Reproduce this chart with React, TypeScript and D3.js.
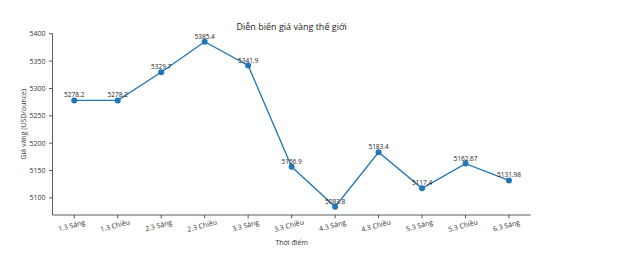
import React from "react";
import * as d3 from "d3";

const categories = ["1.3 Sáng","1.3 Chiều","2.3 Sáng","2.3 Chiều","3.3 Sáng","3.3 Chiều","4.3 Sáng","4.3 Chiều","5.3 Sáng","5.3 Chiều","6.3 Sáng"];
const values = [5278.2, 5278.2, 5329.7, 5385.4, 5341.9, 5156.9, 5083.8, 5183.4, 5117.4, 5162.67, 5131.98];
const labels = ["5278.2","5278.2","5329.7","5385.4","5341.9","5156.9","5083.8","5183.4","5117.4","5162.67","5131.98"];
const yTicks = [5100, 5150, 5200, 5250, 5300, 5350, 5400];

const W = 620, H = 253;
const left = 52.5, right = 530.75, top = 33.5, bottom = 215;
const font = "'Open Sans', 'DejaVu Sans', sans-serif";
const color = "#1f77b4";

export default function App() {
  const n = categories.length;
  const x = d3.scaleLinear().domain([-0.5, n - 0.5]).range([left, right]);
  const ymin = d3.min(values)!, ymax = d3.max(values)!;
  const pad = (ymax - ymin) * 0.05;
  const y = d3.scaleLinear().domain([ymin - pad, ymax + pad]).range([bottom, top]);
  const line = d3.line<number>().x((_, i) => x(i)).y(d => y(d));
  return (
    <svg width={W} height={H} style={{ position: "absolute", left: 0, top: 0, background: "#fff" }} fontFamily={font}>
      <text x={(left + right) / 2} y={30} textAnchor="middle" fontSize={9} fill="#222">Diễn biến giá vàng thế giới</text>
      {yTicks.map(t => (
        <g key={t}>
          <line x1={left - 3.5} x2={left} y1={y(t)} y2={y(t)} stroke="#333" strokeWidth={0.8} />
          <text x={left - 7} y={y(t)} dy="0.35em" textAnchor="end" fontSize={7} fill="#333">{t}</text>
        </g>
      ))}
      {categories.map((c, i) => (
        <g key={c}>
          <line x1={x(i)} x2={x(i)} y1={bottom} y2={bottom + 3.5} stroke="#333" strokeWidth={0.8} />
          <text transform={`translate(${x(i) - 2},${bottom + 13}) rotate(-15)`} textAnchor="middle" fontSize={7} fill="#333">{c}</text>
        </g>
      ))}
      <line x1={left} x2={left} y1={top} y2={bottom} stroke="#333" strokeWidth={0.8} />
      <line x1={left} x2={right} y1={bottom} y2={bottom} stroke="#333" strokeWidth={0.8} />
      <text transform={`translate(26,${(top + bottom) / 2}) rotate(-90)`} textAnchor="middle" fontSize={7} fill="#333">Giá vàng (USD/ounce)</text>
      <text x={(left + right) / 2} y={245} textAnchor="middle" fontSize={7} fill="#333">Thời điểm</text>
      <path d={line(values) || ""} fill="none" stroke={color} strokeWidth={1.3} />
      {values.map((v, i) => (
        <circle key={i} cx={x(i)} cy={y(v)} r={3} fill={color} />
      ))}
      {values.map((v, i) => (
        <text key={"l" + i} x={x(i)} y={y(v) - 3} textAnchor="middle" fontSize={6.5} fill="#222">{labels[i]}</text>
      ))}
    </svg>
  );
}
